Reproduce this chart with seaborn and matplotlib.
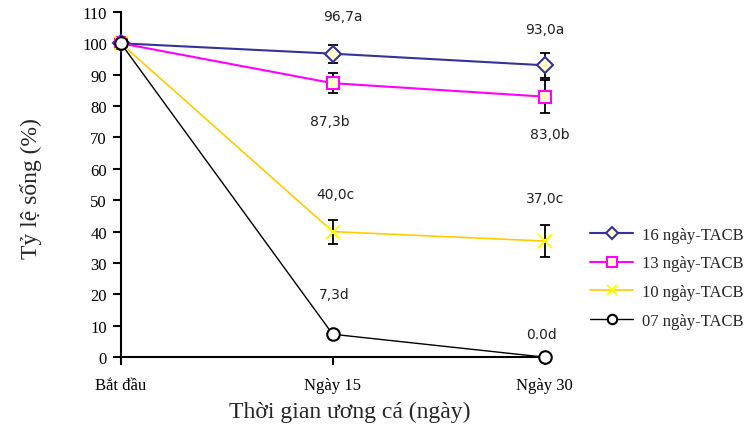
import pandas as pd
import matplotlib
matplotlib.use("Agg")
import matplotlib.pyplot as plt
import seaborn as sns

# Data
days = ["Bắt đầu", "Ngày 15", "Ngày 30"]
series_names = ["16 ngày-TACB", "13 ngày-TACB", "10 ngày-TACB", "07 ngày-TACB"]
survival_16 = [100, 96.7, 93.0]
survival_13 = [100, 87.3, 83.0]
survival_10 = [100, 40.0, 37.0]
survival_07 = [100, 7.3, 0.0]
err_16 = [0, 2.9, 4.0]
err_13 = [0, 3.2, 5.2]
err_10 = [0, 3.8, 5.2]
err_07 = [0, 0, 0]
labels_16 = ["", "96,7a", "93,0a"]
labels_13 = ["", "87,3b", "83,0b"]
labels_10 = ["", "40,0c", "37,0c"]
labels_07 = ["", "7,3d", "0.0d"]

sns.set_style("ticks")
plt.rcParams["font.family"] = ["Liberation Serif", "DejaVu Serif"]

fig = plt.figure(figsize=(7.46, 4.31), dpi=100)
ax = fig.add_axes([0.162, 0.169, 0.568, 0.801])

x = list(range(len(days)))
styles = [
    # values, errors, labels, line colour, marker, marker face, marker edge, ms, lw, label offsets (pt)
    (survival_16, err_16, labels_16, "#333399", "D", "#FFFFCC", "#333399", 8.5, 1.5,
     [(0, 0), (7, 27), (0, 26)]),
    (survival_13, err_13, labels_13, "#FF00FF", "s", "#FFFFCC", "#FF00FF", 9, 1.5,
     [(0, 0), (-2, -27), (4, -27)]),
    (survival_10, err_10, labels_10, "#FFCC00", "x", "none", "#FFFF00", 10, 1.2,
     [(0, 0), (2, 27), (0, 31)]),
    (survival_07, err_07, labels_07, "#000000", "o", "white", "#000000", 9, 1.0,
     [(0, 0), (1, 29), (-2, 17)]),
]

for name, (vals, errs, labs, col, mk, mfc, mec, ms, lw, offs) in zip(series_names, styles):
    df = pd.DataFrame({"x": x, "y": vals})
    ax.errorbar(x, vals, yerr=errs, fmt="none", ecolor="black", elinewidth=1.3,
                capsize=3.5, capthick=1.3, zorder=2, clip_on=False)
    sns.lineplot(data=df, x="x", y="y", ax=ax, color=col, lw=lw, marker=mk,
                 markersize=ms, markerfacecolor=mfc, markeredgecolor=mec,
                 markeredgewidth=1.5, label=name, zorder=3, clip_on=False)
    for xi, yi, t, off in zip(x, vals, labs, offs):
        if t:
            ax.annotate(t, (xi, yi), xytext=off, textcoords="offset points",
                        ha="center", va="center", fontsize=10, color="#222222",
                        family=["DejaVu Sans"])

ax.set_xlim(0, 2)
ax.set_ylim(0, 110)
ax.set_yticks(range(0, 111, 10))
ax.set_xticks(x)
ax.set_xticklabels(days)
ax.tick_params(axis="both", labelsize=12, length=6, width=1.5, direction="out",
               colors="black", pad=4)
ax.tick_params(axis="x", pad=8)
for side in ["top", "right"]:
    ax.spines[side].set_visible(False)
for side in ["left", "bottom"]:
    ax.spines[side].set_linewidth(1.5)
    ax.spines[side].set_color("black")

ax.set_ylabel("Tỷ lệ sống (%)", fontsize=17)
ax.set_xlabel("Thời gian ương cá (ngày)", fontsize=17)
ax.yaxis.set_label_coords(-0.185, 0.49)
ax.xaxis.set_label_coords(0.54, -0.125)

ax.legend(loc="upper left", bbox_to_anchor=(575 / 746, 1 - 213 / 431),
          bbox_transform=fig.transFigure, frameon=False, fontsize=12,
          handlelength=2.6, labelspacing=0.75, handletextpad=0.5,
          markerscale=0.75)

fig.savefig("out.png", dpi=100)
plt.close(fig)
